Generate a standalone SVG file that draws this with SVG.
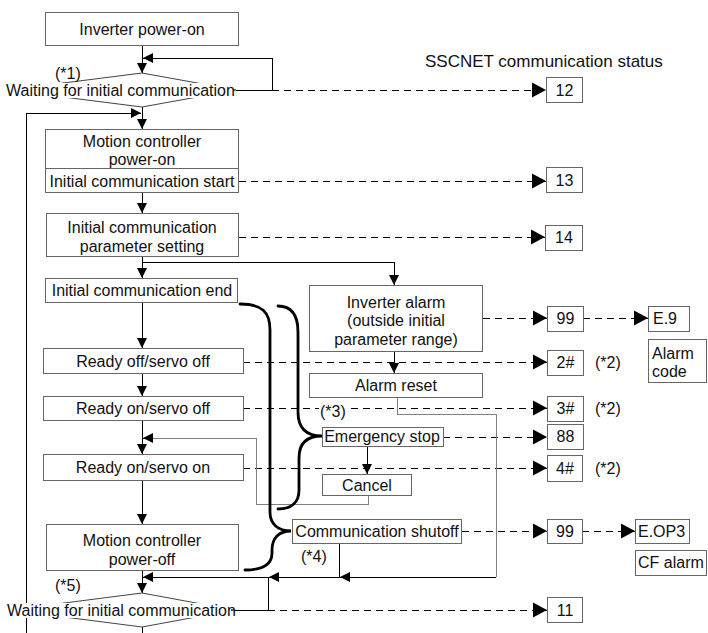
<svg xmlns="http://www.w3.org/2000/svg" width="708" height="633" viewBox="0 0 708 633">
<defs>
<style>
.box{fill:#fff;stroke:#666;stroke-width:1}
.t{font-family:"Liberation Sans",Arial,sans-serif;font-size:16px;fill:#111}
.c{text-anchor:middle}
.flow{stroke:#000;stroke-width:1;fill:none;shape-rendering:crispEdges}
.gray{stroke:#808080;stroke-width:1;fill:none;shape-rendering:crispEdges}
.dash{stroke:#000;stroke-width:1;stroke-dasharray:7 5;fill:none;shape-rendering:crispEdges}
.brace{stroke:#000;stroke-width:2.8;fill:none;stroke-linecap:round}
.dia{stroke:#444;stroke-width:1;fill:none}
</style>
<marker id="ab" markerWidth="14" markerHeight="15" refX="14" refY="7.5" orient="auto" markerUnits="userSpaceOnUse" overflow="visible"><path d="M0,0 L14,7.5 L0,15 Z" fill="#000" shape-rendering="geometricPrecision"/></marker>
<marker id="as" markerWidth="10" markerHeight="10" refX="10" refY="5" orient="auto" markerUnits="userSpaceOnUse" overflow="visible"><path d="M0,0 L10,5 L0,10 Z" fill="#000" shape-rendering="geometricPrecision"/></marker>
</defs>
<rect width="708" height="633" fill="#fff"/>

<g id="connectors">
<path class="flow" d="M142,46 V73" marker-end="url(#as)"/>
<path class="flow" d="M236,90 H272 V58 H143" marker-end="url(#as)"/>
<path class="dash" d="M272,90 H546" marker-end="url(#ab)"/>
<path class="flow" d="M26,633 V113 H141" marker-end="url(#as)"/>
<path class="flow" d="M142,107 V129" marker-end="url(#as)"/>
<path class="dash" d="M239,181 H546" marker-end="url(#ab)"/>
<path class="flow" d="M142,193 V213" marker-end="url(#as)"/>
<path class="dash" d="M239,237 H545" marker-end="url(#ab)"/>
<path class="flow" d="M142,257 V278" marker-end="url(#as)"/>
<path class="flow" d="M142,262 H394 V285" marker-end="url(#as)"/>
<path class="flow" d="M142,302 V348" marker-end="url(#as)"/>
<path class="dash" d="M243,362 H547" marker-end="url(#ab)"/>
<path class="flow" d="M142,374 V396" marker-end="url(#as)"/>
<path class="dash" d="M243,408 H547" marker-end="url(#ab)"/>
<path class="flow" d="M142,421 V454" marker-end="url(#as)"/>
<path class="dash" d="M243,468 H547" marker-end="url(#ab)"/>
<path class="gray" d="M368,496 V504 H256 V438 H152"/>
<path class="flow" d="M152,438 H143" marker-end="url(#as)"/>
<path class="dash" d="M443,437 H547" marker-end="url(#ab)"/>
<path class="flow" d="M367,446 V474" marker-end="url(#as)"/>
<path class="flow" d="M394,352 V373" marker-end="url(#as)"/>
<path class="dash" d="M483,318 H547" marker-end="url(#ab)"/>
<path class="dash" d="M583,318 H648" marker-end="url(#ab)"/>
<path class="gray" d="M397,398 V414 H496 V577"/>
<path class="flow" d="M496,577 H340" marker-end="url(#as)"/>
<path class="flow" d="M339,543 V577 H269" marker-end="url(#as)"/>
<path class="flow" d="M269,577 H143" marker-end="url(#as)"/>
<path class="flow" d="M234,610 H268 V577"/>
<path class="flow" d="M142,481 V524" marker-end="url(#as)"/>
<path class="flow" d="M142,571 V593" marker-end="url(#as)"/>
<path class="dash" d="M462,531 H547" marker-end="url(#ab)"/>
<path class="dash" d="M582,531 H635" marker-end="url(#ab)"/>
<path class="dash" d="M268,610 H547" marker-end="url(#ab)"/>
<path class="flow" d="M142,627 V633"/>
<path class="brace" d="M240,304 C262,304 270,312 270,330 V512 C270,524 278,531 291,531 C279,531 272,538 272,550 V553 C272,565 262,570 245,570"/>
<path class="brace" d="M278,306 C292,306 298,316 298,332 V412 C298,428 306,436 322,436 C306,436 299,444 299,458 V490 C299,502 292,509 278,509"/>
</g>

<text class="t" x="425" y="67" style="font-size:17px">SSCNET communication status</text>

<g id="n-inverter-power-on"><rect class="box" x="45.5" y="12.5" width="193" height="33"/><text class="t c" x="142" y="35">Inverter power-on</text></g>

<g id="n-wait1">
<polygon class="dia" points="8,90 142,73 236,90 142,107"/>
<rect x="6" y="83" width="227" height="15" fill="#fff"/>
<text class="t c" x="120.5" y="96">Waiting for initial communication</text>
<text class="t" x="55" y="79">(*1)</text>
</g>

<g id="n-mc-power-on"><rect class="box" x="45.5" y="129.5" width="193" height="63"/><text class="t c" x="142" y="147">Motion controller</text><text class="t c" x="142" y="165">power-on</text></g>
<g id="n-init-start"><rect class="box" x="45.5" y="168.5" width="193" height="24"/><text class="t c" x="142" y="187">Initial communication start</text></g>
<g id="n-param"><rect class="box" x="46.5" y="213.5" width="192" height="43"/><text class="t c" x="142" y="233">Initial communication</text><text class="t c" x="142" y="252">parameter setting</text></g>
<g id="n-init-end"><rect class="box" x="45.5" y="278.5" width="192" height="24"/><text class="t c" x="142" y="296">Initial communication end</text></g>
<g id="n-ready-off"><rect class="box" x="43.5" y="348.5" width="200" height="25"/><text class="t c" x="143" y="367">Ready off/servo off</text></g>
<g id="n-ready-on-off"><rect class="box" x="43.5" y="396.5" width="200" height="24"/><text class="t c" x="143" y="414">Ready on/servo off</text></g>
<g id="n-ready-on-on"><rect class="box" x="43.5" y="454.5" width="200" height="26"/><text class="t c" x="143" y="473">Ready on/servo on</text></g>
<g id="n-mc-power-off"><rect class="box" x="46.5" y="524.5" width="192" height="46"/><text class="t c" x="142" y="546">Motion controller</text><text class="t c" x="142" y="565">power-off</text></g>

<g id="n-wait2">
<polygon class="dia" points="10,610 142,593 234,610 142,627"/>
<rect x="10" y="603" width="221" height="15" fill="#fff"/>
<text class="t c" x="121.5" y="616">Waiting for initial communication</text>
<text class="t" x="55" y="591">(*5)</text>
</g>

<g id="n-inv-alarm"><rect class="box" x="309.5" y="285.5" width="173" height="66"/><text class="t c" x="396" y="308">Inverter alarm</text><text class="t c" x="396" y="326">(outside initial</text><text class="t c" x="396" y="345">parameter range)</text></g>
<g id="n-alarm-reset"><rect class="box" x="309.5" y="373.5" width="173" height="24"/><text class="t c" x="396" y="391">Alarm reset</text></g>
<g id="n-note3"><rect x="319" y="403" width="28" height="16" fill="#fff"/><text class="t" x="320" y="417">(*3)</text></g>
<g id="n-estop"><rect class="box" x="322.5" y="427.5" width="121" height="19"/><text class="t c" x="382" y="442">Emergency stop</text></g>
<g id="n-cancel"><rect class="box" x="322.5" y="474.5" width="89" height="21"/><text class="t c" x="367" y="491">Cancel</text></g>
<g id="n-comm-shutoff"><rect class="box" x="292.5" y="519.5" width="169" height="24"/><text class="t c" x="377" y="537">Communication shutoff</text></g>
<g id="n-note4"><text class="t" x="301" y="562">(*4)</text></g>

<g id="s-12"><rect class="box" x="546.5" y="77.5" width="36" height="25"/><text class="t c" x="564.5" y="96">12</text></g>
<g id="s-13"><rect class="box" x="546.5" y="167.5" width="36" height="25"/><text class="t c" x="564.5" y="186">13</text></g>
<g id="s-14"><rect class="box" x="545.5" y="225.5" width="37" height="25"/><text class="t c" x="564" y="243">14</text></g>
<g id="s-99a"><rect class="box" x="547.5" y="306.5" width="36" height="25"/><text class="t c" x="565.5" y="324">99</text></g>
<g id="s-e9"><rect class="box" x="648.5" y="306.5" width="41" height="25"/><text class="t" x="653" y="324">E.9</text></g>
<g id="s-alarm-code"><rect class="box" x="648.5" y="339.5" width="58" height="43"/><text class="t" x="652" y="359">Alarm</text><text class="t" x="652" y="377">code</text></g>
<g id="s-2"><rect class="box" x="547.5" y="350.5" width="36" height="25"/><text class="t c" x="565.5" y="368">2#</text><text class="t" x="595" y="368">(*2)</text></g>
<g id="s-3"><rect class="box" x="547.5" y="396.5" width="36" height="25"/><text class="t c" x="565.5" y="414">3#</text><text class="t" x="595" y="414">(*2)</text></g>
<g id="s-88"><rect class="box" x="547.5" y="424.5" width="36" height="25"/><text class="t c" x="565.5" y="442">88</text></g>
<g id="s-4"><rect class="box" x="547.5" y="455.5" width="35" height="26"/><text class="t c" x="565" y="474">4#</text><text class="t" x="595" y="474">(*2)</text></g>
<g id="s-99b"><rect class="box" x="547.5" y="519.5" width="35" height="24"/><text class="t c" x="565" y="537">99</text></g>
<g id="s-eop3"><rect class="box" x="635.5" y="519.5" width="54" height="24"/><text class="t" x="638" y="537">E.OP3</text></g>
<g id="s-cf"><rect class="box" x="635.5" y="550.5" width="71" height="25"/><text class="t" x="638" y="568">CF alarm</text></g>
<g id="s-11"><rect class="box" x="547.5" y="597.5" width="35" height="25"/><text class="t c" x="565" y="616">11</text></g>
</svg>
